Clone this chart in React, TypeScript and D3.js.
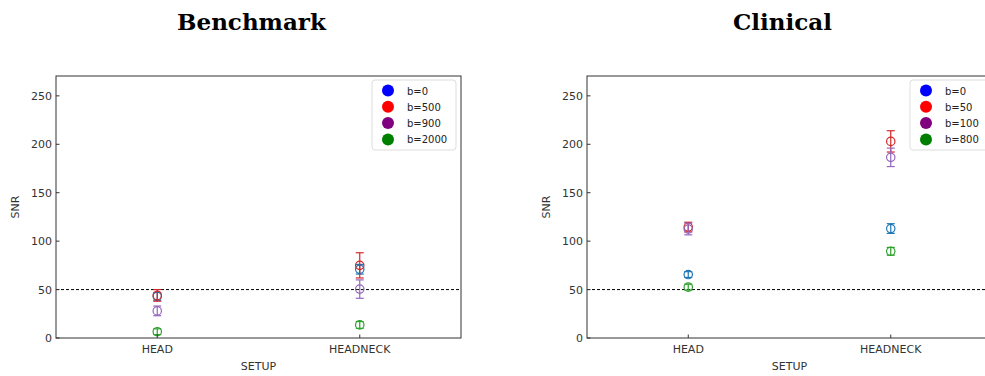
import React from "react";
import * as d3 from "d3";

// Setups shown on the x axis
const setups = ["HEAD", "HEADNECK"];

// Benchmark acquisition: b-values, mean SNR per setup and error half-widths
const benchLabels = ["b=0", "b=500", "b=900", "b=2000"];
const benchMean = [
  [43, 71],
  [44, 75],
  [28, 50.5],
  [6.5, 13.5],
];
const benchErr = [
  [4, 5],
  [6, 13],
  [5, 9.5],
  [3, 3.5],
];

// Clinical acquisition
const clinLabels = ["b=0", "b=50", "b=100", "b=800"];
const clinMean = [
  [65.5, 113],
  [114.5, 203],
  [112.5, 186.5],
  [52.5, 89.5],
];
const clinErr = [
  [3, 5],
  [5, 11],
  [6, 9.5],
  [3, 4],
];

const yTicks = [0, 50, 100, 150, 200, 250];
const markerColors = ["#1f77b4", "#d62728", "#9467bd", "#2ca02c"];
const legendColors = ["blue", "red", "purple", "green"];
const threshold = 50;

type PanelProps = {
  x0: number;
  title: string;
  labels: string[];
  means: number[][];
  errs: number[][];
  legendX: number;
};

const W = 405;
const TOP = 76;
const BOTTOM = 338;

function Panel({ x0, title, labels, means, errs, legendX }: PanelProps) {
  const x = d3.scalePoint<string>().domain(setups).range([x0, x0 + W]).padding(0.5);
  const y = d3.scaleLinear().domain([0, 270.5]).range([BOTTOM, TOP]);
  const font = "DejaVu Sans, sans-serif";
  const lx = legendX;
  return (
    <g>
      <text
        x={x0 + W / 2 - 7}
        y={30}
        textAnchor="middle"
        fontFamily="'DejaVu Serif', serif"
        fontWeight="bold"
        fontSize={23}
        fill="#000"
      >
        {title}
      </text>
      {/* threshold line */}
      <line
        x1={x0}
        x2={x0 + W}
        y1={y(threshold)}
        y2={y(threshold)}
        stroke="#000"
        strokeWidth={1}
        strokeDasharray="3,2"
      />
      {/* error bars and markers */}
      {means.map((row, si) =>
        row.map((m, ci) => {
          const cx = x(setups[ci])!;
          const e = errs[si][ci];
          const c = markerColors[si];
          return (
            <g key={`${si}-${ci}`} stroke={c} fill="none" strokeWidth={1.2}>
              <line x1={cx} x2={cx} y1={y(m - e)} y2={y(m + e)} />
              <line x1={cx - 4} x2={cx + 4} y1={y(m - e)} y2={y(m - e)} />
              <line x1={cx - 4} x2={cx + 4} y1={y(m + e)} y2={y(m + e)} />
              <circle cx={cx} cy={y(m)} r={4.2} />
            </g>
          );
        })
      )}
      {/* frame */}
      <rect x={x0} y={TOP} width={W} height={BOTTOM - TOP} fill="none" stroke="#333" strokeWidth={1} />
      {/* y ticks */}
      {yTicks.map((t) => (
        <g key={t}>
          <line x1={x0} x2={x0 + 3.5} y1={y(t)} y2={y(t)} stroke="#333" />
          <text x={x0 - 4} y={y(t) + 4} textAnchor="end" fontFamily={font} fontSize={11} fill="#333">
            {t}
          </text>
        </g>
      ))}
      {/* x ticks */}
      {setups.map((s) => (
        <g key={s}>
          <line x1={x(s)!} x2={x(s)!} y1={BOTTOM} y2={BOTTOM - 3.5} stroke="#333" />
          <text x={x(s)!} y={BOTTOM + 15} textAnchor="middle" fontFamily={font} fontSize={11} fill="#333">
            {s}
          </text>
        </g>
      ))}
      <text
        x={x0 + W / 2}
        y={370}
        textAnchor="middle"
        fontFamily={font}
        fontSize={11}
        fill="#333"
      >
        SETUP
      </text>
      <text
        transform={`translate(${x0 - 37},${(TOP + BOTTOM) / 2}) rotate(-90)`}
        textAnchor="middle"
        fontFamily={font}
        fontSize={11}
        fill="#333"
      >
        SNR
      </text>
      {/* legend */}
      <rect x={lx} y={80} width={84} height={70} rx={3} fill="#fff" stroke="#ddd" strokeWidth={1} />
      {labels.map((l, i) => (
        <g key={l}>
          <circle cx={lx + 16} cy={90.5 + i * 16.3} r={6} fill={legendColors[i]} />
          <text x={lx + 35} y={94.5 + i * 16.3} fontFamily={font} fontSize={10} fill="#222">
            {l}
          </text>
        </g>
      ))}
    </g>
  );
}

export default function App() {
  return (
    <svg width={985} height={376} style={{ position: "absolute", left: 0, top: 0 }}>
      <rect width={985} height={376} fill="#fff" />
      <Panel x0={56} title="Benchmark" labels={benchLabels} means={benchMean} errs={benchErr} legendX={372} />
      <Panel x0={587} title="Clinical" labels={clinLabels} means={clinMean} errs={clinErr} legendX={910} />
    </svg>
  );
}
